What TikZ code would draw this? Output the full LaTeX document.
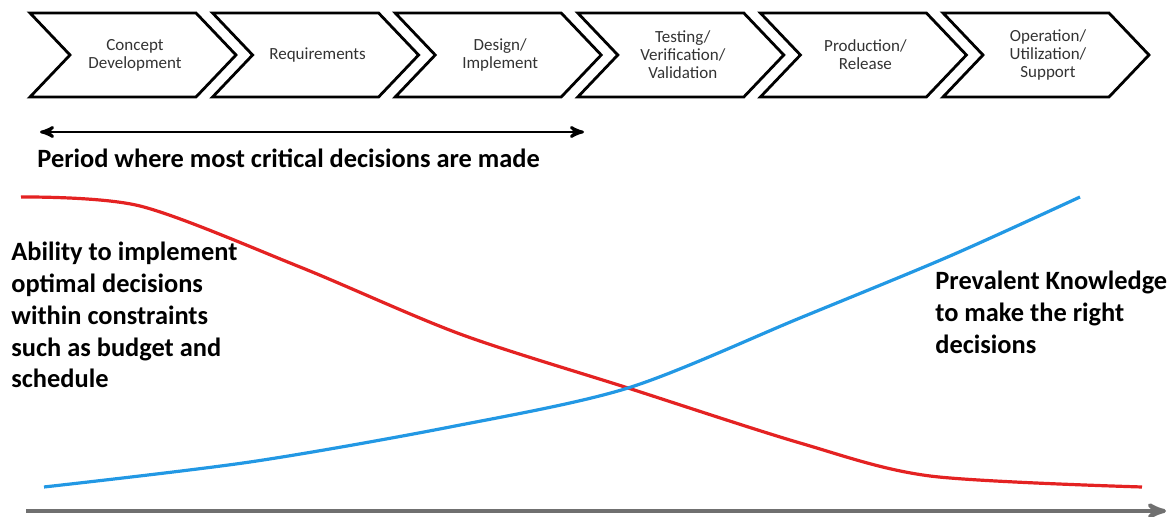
\documentclass[tikz,border=0pt]{standalone}
\usepackage{fontspec}
\setmainfont{Carlito}
\usetikzlibrary{arrows,positioning}
\definecolor{curvered}{RGB}{228,34,34}
\definecolor{curveblue}{RGB}{34,152,228}
\definecolor{axisgray}{RGB}{112,112,112}
\tikzset{
    %Define standard arrow tip
    >=stealth',
    %Define style for process steps
    stage/.style={
           draw=black, line width=1.4pt,
           line join=miter},
    stagetext/.style={
           inner sep=0pt,
           font=\fontsize{8.5}{9}\selectfont,
           text=black!80,
           align=center},
    %Define style for bold texts
    bigtext/.style={
           font=\bfseries\fontsize{13.2}{15.85}\selectfont,
           align=left,
           inner sep=0pt},
    % Define curve styles
    ability/.style={
           draw=curvered,
           line width=1.6pt},
    knowledge/.style={
           draw=curveblue,
           line width=1.6pt},
    span/.style={
           <->,
           line width=1.4pt},
    axis/.style={
           ->,
           draw=axisgray,
           line width=2pt}
}
\begin{document}
\begin{tikzpicture}[x=0.5pt,y=-0.5pt]
\useasboundingbox (0,0) rectangle (1169,517);
 %stages
\foreach \i/\txt in {1/{Concept\\Development},2/{Requirements},3/{Design/\\Implement},4/{Testing/\\Verification/\\Validation},5/{Production/\\Release},6/{Operation/\\Utilization/\\Support}}{
    \draw[stage] ({30+182.6*(\i-1)},13) -- ++(166,0) -- ++(40,42) -- ++(-40,42) -- ++(-166,0) -- ++(40,-42) -- cycle;
    \node[stagetext] (s\i) at ({135+182.6*(\i-1)},55) {\txt};
}
 %critical period
\coordinate (p0) at (40,132);
\coordinate (p1) at (584,132);
\draw[span] (p0) -- (p1);
\node[bigtext, anchor=west] (period) at (37,158) {Period where most critical decisions are made};
 %curves
\draw[ability] plot[smooth] coordinates {(21,197) (140,206) (300,267) (460,334) (628,388) (800,443) (930,476) (1142,487)};
\draw[knowledge] plot[smooth] coordinates {(44,487) (250,462) (450,427) (628,388) (800,318) (950,256) (1080,197)};
\node[bigtext, anchor=north west] (ability) at (11,242) {Ability to implement\\optimal decisions\\within constraints\\such as budget and\\schedule};
\node[bigtext, anchor=north west] (knowledge) at (935,271) {Prevalent Knowledge\\to make the right\\decisions};
 %time axis
\coordinate (t0) at (26,511);
\coordinate (t1) at (1166,511);
\draw[axis] (t0) -- (t1);
\end{tikzpicture}
\end{document}
